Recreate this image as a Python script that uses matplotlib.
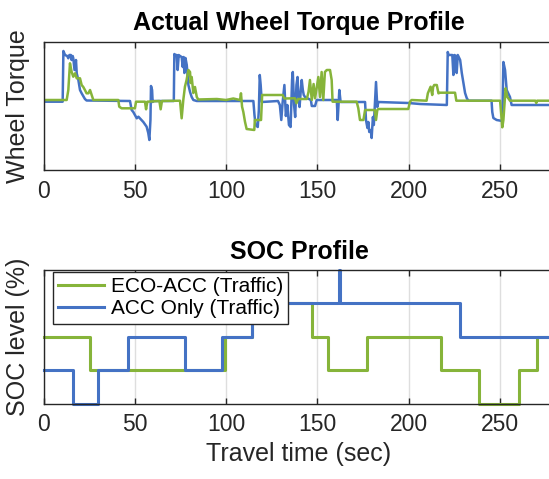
import numpy as np
import matplotlib
matplotlib.use("Agg")
import matplotlib.pyplot as plt

plt.rcParams['font.family'] = ['Liberation Sans', 'DejaVu Sans']

# ---- data ----
t_end = 280
x_ticks = [0, 50, 100, 150, 200, 250]

# wheel torque, ACC only (blue)
acc_torque_t = [0, 10.5, 10.9, 11.8, 13.0, 13.6, 14.2, 15.0, 15.4, 16.0, 16.3, 17.0, 17.8, 18.2, 19.1, 20.0, 20.9, 22.7, 23.6,
                47.4, 48.3, 49.2, 51.1, 52.0, 54.7, 56.5, 57.4, 58.0, 58.6, 58.9, 59.5, 59.8, 60.5,
                71.4, 71.7, 72.1, 73.0, 73.5, 74.1, 74.8, 75.7, 76.3, 76.8, 77.2, 77.8, 78.5, 79.4, 80.3, 81.2, 82.1, 84.0,
                115.0, 115.6, 116.2, 117.4, 118.0, 118.5, 119.0, 119.6,
                128.5, 129.5, 130.3, 131.0, 132.0, 132.8, 133.6, 134.5, 135.4, 136.2, 136.6, 137.3, 137.9, 138.6, 139.2,
                139.8, 140.3, 141.0, 141.5, 142.1, 142.6, 143.3, 146.5, 147.0, 148.8, 149.7,
                160.7, 161.2, 162.1, 162.8, 171.6, 176.2, 176.7, 177.5, 178.0, 178.5, 179.3, 179.8, 180.5, 181.0, 182.2, 182.9, 183.5,
                199.9, 206.3, 221.0, 221.5, 222.0, 224.0, 224.6, 225.2, 226.0, 226.4, 227.0, 228.3, 229.2, 230.1, 231.0, 231.9,
                232.8, 245.5, 245.9, 246.5, 248.3, 251.4, 252.0, 252.9, 253.8, 255.6, 256.5, 280]
acc_torque = [-1.7, -1.7, 49, 45, 44, 41.7, 45, 45, 40, 44, 42, 30, 40, 26.7, 20, 10, 6.7, 1, -0.5,
              -1, -10, -12, -18.3, -16.7, -22, -26.7, -33, -40, -20, 14, 10, -2, -1,
              -1, 46, 45, 45, 30, 45, 44, 43, 33, 43, 27, 42, 35, 15, 8, 3, 0, -1,
              -1, -15, -25, -27, -10, 25, 15, -2,
              -1, -5, -20, -3, 15, -16, -5, -25, -27, 20, 28, -5, -17, 15, 23,
              0, -7, 10, 20, 10, 5, 3, 0, -6, -6, 0,
              0, -20, 10, -2, -2, -2, -20, -28, -22, -32, -30, -38, -17, -25, 18, -7, -2,
              -3, -4, -5, 48, 45, 45, 25, 45, 44, 27, 45, 40, 27, 17, 7, 2,
              -0.7, -0.7, -12, -18, -20, -21, 38, 30, 10, 3, -5, -5]

# wheel torque, ECO-ACC (green)
eco_torque_t = [0, 12.7, 13.6, 14.5, 15.4, 16.3, 17.3, 18.2, 20.0, 20.9, 21.8, 22.7, 23.6, 24.6, 25.5, 26.4, 27.3,
                41.0, 41.5, 42.8, 50.1, 50.7, 55.6, 56.2, 56.9, 63.5, 64.2, 64.9, 74.8, 75.7, 76.6, 77.5, 78.4, 79.4,
                80.3, 80.6, 81.2, 82.1, 83.0, 84.0, 84.8,
                95, 100, 104, 107.7, 108.2, 108.8, 109.5, 110.4, 111.3, 115.5, 115.8, 119.2, 119.8, 131.0, 132.0,
                137.8, 138.6, 139.5, 144.3, 145.2, 146.0, 147.0, 148.0, 148.8, 150.6, 151.5, 152.4, 153.3, 154.2, 155.2,
                157.0, 157.9, 158.4, 171.6, 172.5, 173.4, 175.3, 176.2, 181.5, 182.2, 182.9, 183.5, 199.9, 200.8, 201.7,
                209.9, 210.6, 212.1, 213.0, 213.5, 214.1, 215.5, 216.4, 217.3, 225.5, 226.2, 250.2, 251.4, 252.0, 253.2,
                254.2, 255.6, 269.5, 270.0, 270.5, 280]
eco_torque = [0, 0, 10, 36.7, 28.3, 23.3, 26.7, 21.7, 21.7, 15, 13, 10, 6.7, 6.7, 10, 5, 0,
              0, -6.7, -8.3, -8.3, -1.7, -1.7, -9.3, -1.7, -1, -9.3, -1, -0.7, -18.3, 0, 13.3, 20, 30,
              28, 17, 23, 7, 13, 3, 0.5,
              1, 0, 1.5, 0, 6.7, -6.7, -12, -21.7, -29, -30, -20, -20, 5, 5, 1.5,
              1.7, -3.3, 1, 1, 8, 20, 0, 16, 1.7, 23, 3, 28, 0, 28, 30,
              30, 20, -1.7, -1.7, -8.3, -20, -20, -10, -10, -20, -10, -9, -9, -1.7, 0,
              -0.7, 6.7, 13.3, 5, 13, 15, 15, 6.7, 7.3, 7.3, -0.7, -0.7, -27.3, -20, 11.7,
              3, -0.7, -0.7, -3, -0.7, -0.7]

# SOC level (discrete steps)
eco_soc_t = [0, 25.5, 99.5, 114.1, 147.0, 156.0, 177.4, 217.6, 238.6, 260.5, 270.2, 280]
eco_soc = [2, 1, 2, 3, 2, 1, 2, 1, 0, 1, 2, 2]
acc_soc_t = [0, 16.0, 30.0, 46.5, 77.5, 97.6, 114.1, 161.8, 162.3, 228.2, 280]
acc_soc = [1, 0, 1, 2, 1, 2, 3, 4, 3, 2, 2]

blue = '#4472C4'
green = '#86B43A'
dark = '#262626'

fig = plt.figure(figsize=(5.49, 4.79), dpi=100)
# axes run slightly past the right edge of the picture, as in the reference
ax1 = fig.add_axes([43.5 / 549, 1 - 170 / 479, 511 / 549, 128.5 / 479])
ax2 = fig.add_axes([43.5 / 549, 1 - 403.5 / 479, 511 / 549, 133.5 / 479])


def style(ax):
    ax.set_xlim(0, t_end)
    ax.set_xticks(x_ticks)
    ax.set_yticks([])
    ax.tick_params(axis='x', direction='in', length=4, width=1, top=True,
                   labelsize=16.5, colors=dark, pad=7)
    ax.grid(axis='x', color='#dedede', linewidth=1)
    ax.set_axisbelow(True)
    for s in ax.spines.values():
        s.set_color(dark)
        s.set_linewidth(1)


ax1.plot(acc_torque_t, acc_torque, color=blue, lw=1.8)
ax1.plot(eco_torque_t, eco_torque, color=green, lw=1.8)
ax1.set_ylim(-70, 58.5)
style(ax1)
ax1.set_title('Actual Wheel Torque Profile', fontsize=18, fontweight='bold', pad=8)
ax1.set_ylabel('Wheel Torque', fontsize=18, color=dark, labelpad=10)

ax2.plot(eco_soc_t, eco_soc, color=green, lw=2.2, drawstyle='steps-post',
         clip_on=False, label='ECO-ACC (Traffic)')
ax2.plot(acc_soc_t, acc_soc, color=blue, lw=2.2, drawstyle='steps-post',
         clip_on=False, label='ACC Only (Traffic)')
ax2.set_ylim(0, 4)
style(ax2)
ax2.set_title('SOC Profile', fontsize=18, fontweight='bold', pad=8)
ax2.set_ylabel('SOC level (%)', fontsize=18, color=dark, labelpad=10)
ax2.set_xlabel('Travel time (sec)', fontsize=18, color=dark, labelpad=4)

leg = ax2.legend(loc='upper left', bbox_to_anchor=(0.019, 0.985), fontsize=15,
                 frameon=True, fancybox=False, framealpha=1, borderpad=0.25,
                 handlelength=2.2, handletextpad=0.3, labelspacing=0.15,
                 borderaxespad=0)
leg.get_frame().set_edgecolor(dark)
leg.get_frame().set_linewidth(1)

fig.savefig('out.png', dpi=100)
